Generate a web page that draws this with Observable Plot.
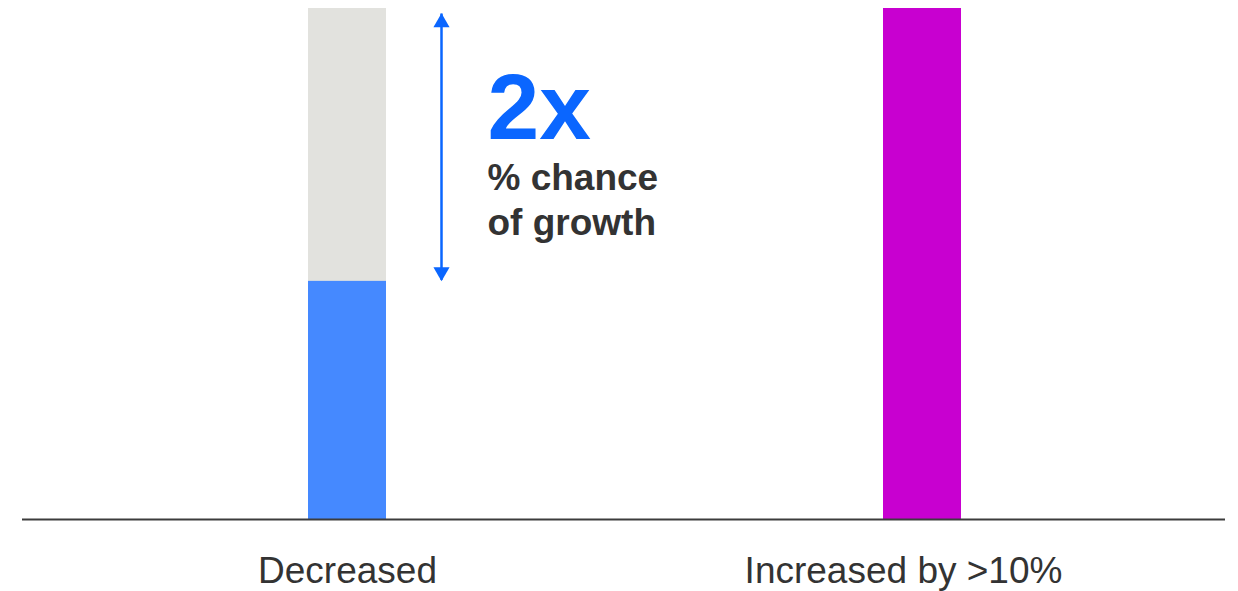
<!DOCTYPE html>
<html>
<head>
<meta charset="utf-8">
<script src="https://cdn.jsdelivr.net/npm/d3@7"></script>
<script src="https://cdn.jsdelivr.net/npm/@observablehq/plot@0.6"></script>
<style>
  html, body { margin: 0; padding: 0; background: #fff; overflow: hidden; }
  #chart svg { display: block; }
</style>
</head>
<body>
<div id="chart"></div>
<script>
// ---- data ----
const categories = ["Decreased", "Increased by >10%"];
const growthChance = [46.6, 100];        // % chance of growth (indexed)
const fullScale = [100, 100];             // grey reference height
const barColors = ["#4589FF", "#C800D0"];
const arrowFrom = 46.8;                    // arrow lower end
const arrowTo = 98.9;                      // arrow upper end
const bigLabel = "2x";
const subLabel = "% chance\nof growth";
const bigLabelY = 74.4;
const subLabelY = 55.6;

const rows = categories.map((c, i) => ({cat: c, value: growthChance[i], full: fullScale[i], color: barColors[i]}));
const font = "'Liberation Sans', Arial, Helvetica, sans-serif";
const blue = "#0A66FF";

const chart = Plot.plot({
  width: 1238,
  height: 591,
  marginLeft: 22,
  marginRight: 13,
  marginTop: 8,
  marginBottom: 72,
  style: {fontFamily: font, background: "#fff"},
  x: {domain: categories, range: [59.5, 1209.5], paddingInner: 0.864, paddingOuter: 0.432, axis: null},
  y: {domain: [0, 100], axis: null},
  marks: [
    // grey backdrop bar for the decreased category only
    Plot.barY(rows.filter(d => d.cat === "Decreased"), {x: "cat", y: "full", fill: "#E2E2DE"}),
    Plot.barY(rows, {x: "cat", y: "value", fill: "color"}),
    Plot.ruleY([0], {stroke: "#3c3c3c", strokeWidth: 2}),
    // double-headed arrow
    Plot.ruleX([categories[0]], {x: d => d, y1: arrowFrom, y2: arrowTo, dx: 94, stroke: blue, strokeWidth: 2.5}),
    Plot.dot([categories[0]], {x: d => d, y: arrowTo, dx: 94, dy: 8.5, symbol: "triangle", r: 6, fill: blue, stroke: null}),
    Plot.dot([categories[0]], {x: d => d, y: arrowFrom, dx: 94, dy: -8.5, symbol: "triangle", r: 6, rotate: 180, fill: blue, stroke: null}),
    // annotation text
    Plot.text([bigLabel], {x: () => categories[0], y: bigLabelY, text: d => d, dx: 140, textAnchor: "start", lineAnchor: "bottom", fontSize: 93, fontWeight: "bold", fill: blue}),
    Plot.text([subLabel], {x: () => categories[0], y: subLabelY, text: d => d, dx: 140, textAnchor: "start", lineAnchor: "bottom", lineHeight: 1.216, fontSize: 37, fontWeight: "bold", fill: "#333333"}),
    // category labels
    Plot.text([categories[0]], {x: d => d, text: d => d, frameAnchor: "bottom", lineAnchor: "top", dy: 37, fontSize: 37, fill: "#333333"}),
    Plot.text([categories[1]], {x: d => d, text: d => d, frameAnchor: "bottom", lineAnchor: "top", dy: 37, dx: -19, fontSize: 37, fill: "#333333"})
  ]
});
document.getElementById("chart").appendChild(chart);
</script>
</body>
</html>
